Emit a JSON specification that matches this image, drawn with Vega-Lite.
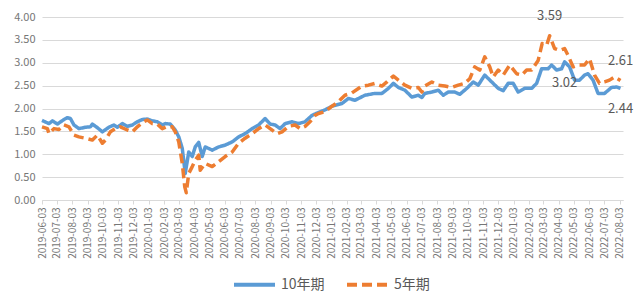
{
  "$schema": "https://vega.github.io/schema/vega-lite/v6.json",
  "width": 581,
  "height": 183,
  "autosize": {"type": "none"},
  "padding": {"left": 42, "top": 17, "right": 18, "bottom": 105},
  "background": "white",
  "config": {"view": {"stroke": null}, "font": "Noto Sans CJK SC"},
  "datasets": {
    "rates": [
      {"date": "2019-06-03", "series": "10年期", "value": 1.74},
      {"date": "2019-06-17", "series": "10年期", "value": 1.67},
      {"date": "2019-06-24", "series": "10年期", "value": 1.73},
      {"date": "2019-07-04", "series": "10年期", "value": 1.66},
      {"date": "2019-07-17", "series": "10年期", "value": 1.76},
      {"date": "2019-07-24", "series": "10年期", "value": 1.80},
      {"date": "2019-07-30", "series": "10年期", "value": 1.78},
      {"date": "2019-08-06", "series": "10年期", "value": 1.64},
      {"date": "2019-08-16", "series": "10年期", "value": 1.56},
      {"date": "2019-08-29", "series": "10年期", "value": 1.59},
      {"date": "2019-09-08", "series": "10年期", "value": 1.60},
      {"date": "2019-09-12", "series": "10年期", "value": 1.66},
      {"date": "2019-09-22", "series": "10年期", "value": 1.58},
      {"date": "2019-10-02", "series": "10年期", "value": 1.49},
      {"date": "2019-10-15", "series": "10年期", "value": 1.59},
      {"date": "2019-10-25", "series": "10年期", "value": 1.64},
      {"date": "2019-11-01", "series": "10年期", "value": 1.59},
      {"date": "2019-11-11", "series": "10年期", "value": 1.67},
      {"date": "2019-11-21", "series": "10年期", "value": 1.61},
      {"date": "2019-12-01", "series": "10年期", "value": 1.64},
      {"date": "2019-12-11", "series": "10年期", "value": 1.71},
      {"date": "2019-12-21", "series": "10年期", "value": 1.76},
      {"date": "2019-12-31", "series": "10年期", "value": 1.77},
      {"date": "2020-01-10", "series": "10年期", "value": 1.73},
      {"date": "2020-01-20", "series": "10年期", "value": 1.71},
      {"date": "2020-01-30", "series": "10年期", "value": 1.64},
      {"date": "2020-02-05", "series": "10年期", "value": 1.67},
      {"date": "2020-02-15", "series": "10年期", "value": 1.66},
      {"date": "2020-02-25", "series": "10年期", "value": 1.53},
      {"date": "2020-03-03", "series": "10年期", "value": 1.38},
      {"date": "2020-03-10", "series": "10年期", "value": 1.13},
      {"date": "2020-03-16", "series": "10年期", "value": 0.58},
      {"date": "2020-03-23", "series": "10年期", "value": 1.05},
      {"date": "2020-03-30", "series": "10年期", "value": 0.95},
      {"date": "2020-04-05", "series": "10年期", "value": 1.16},
      {"date": "2020-04-12", "series": "10年期", "value": 1.26},
      {"date": "2020-04-19", "series": "10年期", "value": 0.95},
      {"date": "2020-04-25", "series": "10年期", "value": 1.16},
      {"date": "2020-05-09", "series": "10年期", "value": 1.09},
      {"date": "2020-05-22", "series": "10年期", "value": 1.16},
      {"date": "2020-06-04", "series": "10年期", "value": 1.20},
      {"date": "2020-06-18", "series": "10年期", "value": 1.27},
      {"date": "2020-07-01", "series": "10年期", "value": 1.38},
      {"date": "2020-07-14", "series": "10年期", "value": 1.45},
      {"date": "2020-07-28", "series": "10年期", "value": 1.56},
      {"date": "2020-08-10", "series": "10年期", "value": 1.64},
      {"date": "2020-08-23", "series": "10年期", "value": 1.78},
      {"date": "2020-09-02", "series": "10年期", "value": 1.66},
      {"date": "2020-09-12", "series": "10年期", "value": 1.64},
      {"date": "2020-09-22", "series": "10年期", "value": 1.56},
      {"date": "2020-10-02", "series": "10年期", "value": 1.67},
      {"date": "2020-10-16", "series": "10年期", "value": 1.71},
      {"date": "2020-10-29", "series": "10年期", "value": 1.67},
      {"date": "2020-11-11", "series": "10年期", "value": 1.71},
      {"date": "2020-11-25", "series": "10年期", "value": 1.85},
      {"date": "2020-12-05", "series": "10年期", "value": 1.90},
      {"date": "2020-12-21", "series": "10年期", "value": 1.97},
      {"date": "2021-01-04", "series": "10年期", "value": 2.05},
      {"date": "2021-01-24", "series": "10年期", "value": 2.11},
      {"date": "2021-02-06", "series": "10年期", "value": 2.22},
      {"date": "2021-02-19", "series": "10年期", "value": 2.18},
      {"date": "2021-03-11", "series": "10年期", "value": 2.29},
      {"date": "2021-03-31", "series": "10年期", "value": 2.33},
      {"date": "2021-04-14", "series": "10年期", "value": 2.33},
      {"date": "2021-04-27", "series": "10年期", "value": 2.44},
      {"date": "2021-05-07", "series": "10年期", "value": 2.55},
      {"date": "2021-05-17", "series": "10年期", "value": 2.46},
      {"date": "2021-05-30", "series": "10年期", "value": 2.40},
      {"date": "2021-06-13", "series": "10年期", "value": 2.25},
      {"date": "2021-06-26", "series": "10年期", "value": 2.29},
      {"date": "2021-07-03", "series": "10年期", "value": 2.24},
      {"date": "2021-07-09", "series": "10年期", "value": 2.33},
      {"date": "2021-07-23", "series": "10年期", "value": 2.36},
      {"date": "2021-08-05", "series": "10年期", "value": 2.40},
      {"date": "2021-08-15", "series": "10年期", "value": 2.29},
      {"date": "2021-08-25", "series": "10年期", "value": 2.36},
      {"date": "2021-09-07", "series": "10年期", "value": 2.36},
      {"date": "2021-09-17", "series": "10年期", "value": 2.31},
      {"date": "2021-10-01", "series": "10年期", "value": 2.44},
      {"date": "2021-10-14", "series": "10年期", "value": 2.58},
      {"date": "2021-10-24", "series": "10年期", "value": 2.51},
      {"date": "2021-11-06", "series": "10年期", "value": 2.73},
      {"date": "2021-11-20", "series": "10年期", "value": 2.58},
      {"date": "2021-12-03", "series": "10年期", "value": 2.44},
      {"date": "2021-12-13", "series": "10年期", "value": 2.39},
      {"date": "2021-12-23", "series": "10年期", "value": 2.55},
      {"date": "2022-01-02", "series": "10年期", "value": 2.55},
      {"date": "2022-01-12", "series": "10年期", "value": 2.36},
      {"date": "2022-01-25", "series": "10年期", "value": 2.44},
      {"date": "2022-02-08", "series": "10年期", "value": 2.44},
      {"date": "2022-02-18", "series": "10年期", "value": 2.55},
      {"date": "2022-02-28", "series": "10年期", "value": 2.87},
      {"date": "2022-03-13", "series": "10年期", "value": 2.87},
      {"date": "2022-03-20", "series": "10年期", "value": 2.95},
      {"date": "2022-03-30", "series": "10年期", "value": 2.84},
      {"date": "2022-04-09", "series": "10年期", "value": 2.87},
      {"date": "2022-04-15", "series": "10年期", "value": 3.02},
      {"date": "2022-04-25", "series": "10年期", "value": 2.91},
      {"date": "2022-05-05", "series": "10年期", "value": 2.62},
      {"date": "2022-05-15", "series": "10年期", "value": 2.62},
      {"date": "2022-05-25", "series": "10年期", "value": 2.73},
      {"date": "2022-06-01", "series": "10年期", "value": 2.76},
      {"date": "2022-06-11", "series": "10年期", "value": 2.62},
      {"date": "2022-06-21", "series": "10年期", "value": 2.33},
      {"date": "2022-07-04", "series": "10年期", "value": 2.33},
      {"date": "2022-07-18", "series": "10年期", "value": 2.46},
      {"date": "2022-07-28", "series": "10年期", "value": 2.47},
      {"date": "2022-08-05", "series": "10年期", "value": 2.44},
      {"date": "2019-06-03", "series": "5年期", "value": 1.60},
      {"date": "2019-06-14", "series": "5年期", "value": 1.56},
      {"date": "2019-06-17", "series": "5年期", "value": 1.45},
      {"date": "2019-06-27", "series": "5年期", "value": 1.56},
      {"date": "2019-07-07", "series": "5年期", "value": 1.54},
      {"date": "2019-07-17", "series": "5年期", "value": 1.64},
      {"date": "2019-07-27", "series": "5年期", "value": 1.60},
      {"date": "2019-08-06", "series": "5年期", "value": 1.42},
      {"date": "2019-08-16", "series": "5年期", "value": 1.38},
      {"date": "2019-08-29", "series": "5年期", "value": 1.35},
      {"date": "2019-09-12", "series": "5年期", "value": 1.31},
      {"date": "2019-09-22", "series": "5年期", "value": 1.42},
      {"date": "2019-10-02", "series": "5年期", "value": 1.24},
      {"date": "2019-10-08", "series": "5年期", "value": 1.31},
      {"date": "2019-10-18", "series": "5年期", "value": 1.49},
      {"date": "2019-10-28", "series": "5年期", "value": 1.56},
      {"date": "2019-11-07", "series": "5年期", "value": 1.60},
      {"date": "2019-11-21", "series": "5年期", "value": 1.53},
      {"date": "2019-12-01", "series": "5年期", "value": 1.49},
      {"date": "2019-12-11", "series": "5年期", "value": 1.60},
      {"date": "2019-12-21", "series": "5年期", "value": 1.69},
      {"date": "2019-12-31", "series": "5年期", "value": 1.75},
      {"date": "2020-01-10", "series": "5年期", "value": 1.67},
      {"date": "2020-01-20", "series": "5年期", "value": 1.66},
      {"date": "2020-01-30", "series": "5年期", "value": 1.56},
      {"date": "2020-02-09", "series": "5年期", "value": 1.61},
      {"date": "2020-02-19", "series": "5年期", "value": 1.60},
      {"date": "2020-02-25", "series": "5年期", "value": 1.49},
      {"date": "2020-03-03", "series": "5年期", "value": 1.27},
      {"date": "2020-03-10", "series": "5年期", "value": 0.80},
      {"date": "2020-03-15", "series": "5年期", "value": 0.29},
      {"date": "2020-03-18", "series": "5年期", "value": 0.16},
      {"date": "2020-03-23", "series": "5年期", "value": 0.58},
      {"date": "2020-03-30", "series": "5年期", "value": 0.73},
      {"date": "2020-04-05", "series": "5年期", "value": 0.87},
      {"date": "2020-04-12", "series": "5年期", "value": 0.98},
      {"date": "2020-04-15", "series": "5年期", "value": 0.65},
      {"date": "2020-04-25", "series": "5年期", "value": 0.80},
      {"date": "2020-05-09", "series": "5年期", "value": 0.73},
      {"date": "2020-05-22", "series": "5年期", "value": 0.84},
      {"date": "2020-06-04", "series": "5年期", "value": 0.95},
      {"date": "2020-06-18", "series": "5年期", "value": 1.05},
      {"date": "2020-07-01", "series": "5年期", "value": 1.24},
      {"date": "2020-07-14", "series": "5年期", "value": 1.35},
      {"date": "2020-07-28", "series": "5年期", "value": 1.45},
      {"date": "2020-08-10", "series": "5年期", "value": 1.56},
      {"date": "2020-08-23", "series": "5年期", "value": 1.64},
      {"date": "2020-09-02", "series": "5年期", "value": 1.56},
      {"date": "2020-09-16", "series": "5年期", "value": 1.45},
      {"date": "2020-09-26", "series": "5年期", "value": 1.49},
      {"date": "2020-10-09", "series": "5年期", "value": 1.61},
      {"date": "2020-10-22", "series": "5年期", "value": 1.64},
      {"date": "2020-11-01", "series": "5年期", "value": 1.56},
      {"date": "2020-11-11", "series": "5年期", "value": 1.61},
      {"date": "2020-11-21", "series": "5年期", "value": 1.71},
      {"date": "2020-12-01", "series": "5年期", "value": 1.85},
      {"date": "2020-12-08", "series": "5年期", "value": 1.89},
      {"date": "2020-12-21", "series": "5年期", "value": 1.93},
      {"date": "2021-01-04", "series": "5年期", "value": 2.05},
      {"date": "2021-01-17", "series": "5年期", "value": 2.15},
      {"date": "2021-01-30", "series": "5年期", "value": 2.29},
      {"date": "2021-02-13", "series": "5年期", "value": 2.34},
      {"date": "2021-03-05", "series": "5年期", "value": 2.49},
      {"date": "2021-03-18", "series": "5年期", "value": 2.51},
      {"date": "2021-03-31", "series": "5年期", "value": 2.55},
      {"date": "2021-04-14", "series": "5年期", "value": 2.49},
      {"date": "2021-04-24", "series": "5年期", "value": 2.58},
      {"date": "2021-05-07", "series": "5年期", "value": 2.71},
      {"date": "2021-05-17", "series": "5年期", "value": 2.62},
      {"date": "2021-05-30", "series": "5年期", "value": 2.51},
      {"date": "2021-06-13", "series": "5年期", "value": 2.44},
      {"date": "2021-06-26", "series": "5年期", "value": 2.46},
      {"date": "2021-07-03", "series": "5年期", "value": 2.36},
      {"date": "2021-07-09", "series": "5年期", "value": 2.49},
      {"date": "2021-07-23", "series": "5年期", "value": 2.58},
      {"date": "2021-08-05", "series": "5年期", "value": 2.51},
      {"date": "2021-08-18", "series": "5年期", "value": 2.49},
      {"date": "2021-09-01", "series": "5年期", "value": 2.46},
      {"date": "2021-09-14", "series": "5年期", "value": 2.51},
      {"date": "2021-09-27", "series": "5年期", "value": 2.55},
      {"date": "2021-10-07", "series": "5年期", "value": 2.65},
      {"date": "2021-10-17", "series": "5年期", "value": 2.91},
      {"date": "2021-10-27", "series": "5年期", "value": 2.84},
      {"date": "2021-11-06", "series": "5年期", "value": 3.13},
      {"date": "2021-11-16", "series": "5年期", "value": 2.91},
      {"date": "2021-11-23", "series": "5年期", "value": 2.69},
      {"date": "2021-12-03", "series": "5年期", "value": 2.84},
      {"date": "2021-12-13", "series": "5年期", "value": 2.73},
      {"date": "2021-12-26", "series": "5年期", "value": 2.95},
      {"date": "2022-01-09", "series": "5年期", "value": 2.76},
      {"date": "2022-01-19", "series": "5年期", "value": 2.73},
      {"date": "2022-01-29", "series": "5年期", "value": 2.84},
      {"date": "2022-02-08", "series": "5年期", "value": 2.84},
      {"date": "2022-02-21", "series": "5年期", "value": 3.05},
      {"date": "2022-03-01", "series": "5年期", "value": 3.42},
      {"date": "2022-03-10", "series": "5年期", "value": 3.38},
      {"date": "2022-03-16", "series": "5年期", "value": 3.59},
      {"date": "2022-03-26", "series": "5年期", "value": 3.31},
      {"date": "2022-04-05", "series": "5年期", "value": 3.27},
      {"date": "2022-04-15", "series": "5年期", "value": 3.31},
      {"date": "2022-04-22", "series": "5年期", "value": 3.16},
      {"date": "2022-05-02", "series": "5年期", "value": 2.91},
      {"date": "2022-05-12", "series": "5年期", "value": 2.95},
      {"date": "2022-05-25", "series": "5年期", "value": 2.95},
      {"date": "2022-06-04", "series": "5年期", "value": 3.09},
      {"date": "2022-06-14", "series": "5年期", "value": 2.73},
      {"date": "2022-06-24", "series": "5年期", "value": 2.55},
      {"date": "2022-07-04", "series": "5年期", "value": 2.58},
      {"date": "2022-07-14", "series": "5年期", "value": 2.62},
      {"date": "2022-07-24", "series": "5年期", "value": 2.69},
      {"date": "2022-08-05", "series": "5年期", "value": 2.61}
    ],
    "labels": [
      {"date": "2022-03-16", "series": "5年期", "value": 3.59},
      {"date": "2022-08-05", "series": "5年期", "value": 2.61},
      {"date": "2022-04-15", "series": "10年期", "value": 3.02},
      {"date": "2022-08-05", "series": "10年期", "value": 2.44}
    ]
  },
  "encoding": {
    "x": {
      "field": "date",
      "type": "temporal",
      "scale": {"type": "utc", "nice": false, "domain": [{"year": 2019, "month": 6, "date": 3, "utc": true}, {"year": 2022, "month": 8, "date": 10, "utc": true}]},
      "axis": {
        "title": null,
        "format": "%Y-%m-%d",
        "labelAngle": -90,
        "labelFontSize": 10,
        "labelColor": "#767676",
        "labelOverlap": false,
        "labelFlush": false,
        "labelBound": false,
        "labelPadding": 3,
        "tickColor": "#D9D9D9",
        "tickSize": 4,
        "domainColor": "#D9D9D9",
        "grid": false,
        "values": [
          {"year": 2019, "month": 6, "date": 3, "utc": true},
          {"year": 2019, "month": 7, "date": 3, "utc": true},
          {"year": 2019, "month": 8, "date": 3, "utc": true},
          {"year": 2019, "month": 9, "date": 3, "utc": true},
          {"year": 2019, "month": 10, "date": 3, "utc": true},
          {"year": 2019, "month": 11, "date": 3, "utc": true},
          {"year": 2019, "month": 12, "date": 3, "utc": true},
          {"year": 2020, "month": 1, "date": 3, "utc": true},
          {"year": 2020, "month": 2, "date": 3, "utc": true},
          {"year": 2020, "month": 3, "date": 3, "utc": true},
          {"year": 2020, "month": 4, "date": 3, "utc": true},
          {"year": 2020, "month": 5, "date": 3, "utc": true},
          {"year": 2020, "month": 6, "date": 3, "utc": true},
          {"year": 2020, "month": 7, "date": 3, "utc": true},
          {"year": 2020, "month": 8, "date": 3, "utc": true},
          {"year": 2020, "month": 9, "date": 3, "utc": true},
          {"year": 2020, "month": 10, "date": 3, "utc": true},
          {"year": 2020, "month": 11, "date": 3, "utc": true},
          {"year": 2020, "month": 12, "date": 3, "utc": true},
          {"year": 2021, "month": 1, "date": 3, "utc": true},
          {"year": 2021, "month": 2, "date": 3, "utc": true},
          {"year": 2021, "month": 3, "date": 3, "utc": true},
          {"year": 2021, "month": 4, "date": 3, "utc": true},
          {"year": 2021, "month": 5, "date": 3, "utc": true},
          {"year": 2021, "month": 6, "date": 3, "utc": true},
          {"year": 2021, "month": 7, "date": 3, "utc": true},
          {"year": 2021, "month": 8, "date": 3, "utc": true},
          {"year": 2021, "month": 9, "date": 3, "utc": true},
          {"year": 2021, "month": 10, "date": 3, "utc": true},
          {"year": 2021, "month": 11, "date": 3, "utc": true},
          {"year": 2021, "month": 12, "date": 3, "utc": true},
          {"year": 2022, "month": 1, "date": 3, "utc": true},
          {"year": 2022, "month": 2, "date": 3, "utc": true},
          {"year": 2022, "month": 3, "date": 3, "utc": true},
          {"year": 2022, "month": 4, "date": 3, "utc": true},
          {"year": 2022, "month": 5, "date": 3, "utc": true},
          {"year": 2022, "month": 6, "date": 3, "utc": true},
          {"year": 2022, "month": 7, "date": 3, "utc": true},
          {"year": 2022, "month": 8, "date": 3, "utc": true}
        ]
      }
    },
    "y": {
      "field": "value",
      "type": "quantitative",
      "scale": {"domain": [0, 4], "nice": false},
      "axis": {
        "title": null,
        "values": [0, 0.5, 1, 1.5, 2, 2.5, 3, 3.5, 4],
        "format": ".2f",
        "labelFontSize": 11,
        "labelColor": "#767676",
        "labelPadding": 7,
        "domain": false,
        "ticks": false,
        "gridColor": "#D9D9D9",
        "gridWidth": 1
      }
    }
  },
  "layer": [
    {
      "data": {"name": "rates"},
      "mark": {"type": "line", "strokeWidth": 3.5, "strokeCap": "butt", "strokeJoin": "round"},
      "encoding": {
        "color": {
          "field": "series",
          "type": "nominal",
          "scale": {"domain": ["10年期", "5年期"], "range": ["#5B9BD5", "#ED7D31"]},
          "legend": {"title": null, "orient": "none", "legendX": 190, "legendY": 245, "direction": "horizontal", "symbolType": "stroke", "symbolSize": 1681, "symbolStrokeWidth": 4, "labelFontSize": 14, "labelColor": "#595959", "columnPadding": 14, "labelOffset": 4}
        },
        "strokeDash": {
          "field": "series",
          "type": "nominal",
          "scale": {"domain": ["10年期", "5年期"], "range": [[1, 0], [10, 5]]},
          "legend": {"title": null, "orient": "none", "legendX": 190, "legendY": 245, "direction": "horizontal", "symbolType": "stroke", "symbolSize": 1681, "symbolStrokeWidth": 4, "labelFontSize": 14, "labelColor": "#595959", "columnPadding": 14, "labelOffset": 4}
        }
      }
    },
    {
      "data": {"name": "labels"},
      "transform": [{"filter": "datum.series === '5年期'"}],
      "mark": {"type": "text", "dy": -20, "fontSize": 13, "color": "#595959"},
      "encoding": {"text": {"field": "value", "type": "quantitative", "format": ".2f"}}
    },
    {
      "data": {"name": "labels"},
      "transform": [{"filter": "datum.series === '10年期'"}],
      "mark": {"type": "text", "dy": 21, "fontSize": 13, "color": "#595959"},
      "encoding": {"text": {"field": "value", "type": "quantitative", "format": ".2f"}}
    }
  ]
}
